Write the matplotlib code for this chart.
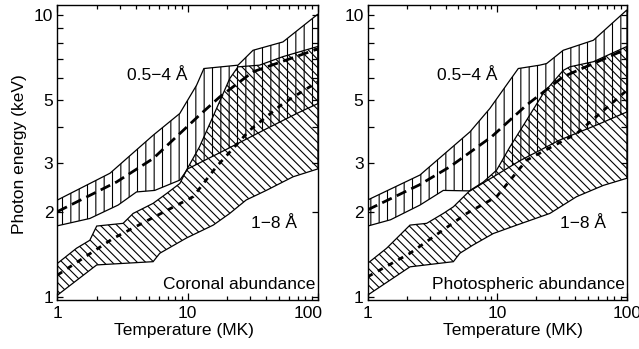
import matplotlib
matplotlib.use('Agg')
import matplotlib.pyplot as plt
from matplotlib.patches import Polygon
from matplotlib.ticker import FixedLocator, FixedFormatter, NullFormatter
import matplotlib.transforms as mtransforms

plt.rcParams['font.family'] = ['Liberation Sans', 'DejaVu Sans']
plt.rcParams['hatch.linewidth'] = 0.8

# ---------------- Coronal abundance (left panel) ----------------
cor_short_up_T = [1.0, 2.53, 5.42, 8.68, 11.7, 13.3, 24.3, 31.7, 53.8, 100]
cor_short_up_E = [2.21, 2.75, 3.75, 4.48, 5.65, 6.47, 6.65, 7.51, 8.04, 10.1]
cor_short_lo_T = [1.0, 1.77, 2.92, 4.04, 5.58, 8.7, 10.0, 20, 40, 70, 100]
cor_short_lo_E = [1.79, 1.90, 2.12, 2.36, 2.39, 2.6, 2.85, 3.35, 3.95, 4.5, 4.86]
cor_long_up_T = [1.0, 1.4, 1.77, 2.0, 3.19, 3.81, 5.42, 6.88, 8.7, 9.78, 12.3, 15.6, 21, 24.3, 35.5, 53.8, 100]
cor_long_up_E = [1.317, 1.49, 1.59, 1.786, 1.826, 1.98, 2.15, 2.33, 2.53, 2.82, 3.41, 4.36, 5.96, 6.56, 6.65, 7.13, 7.75]
cor_long_lo_T = [1.0, 2.0, 5.42, 6.1, 9.78, 15.7, 21, 28.1, 40.1, 64.2, 100]
cor_long_lo_E = [1.016, 1.30, 1.335, 1.43, 1.62, 1.80, 1.98, 2.21, 2.39, 2.67, 2.85]
cor_short_med_T = [1.0, 2.84, 5.42, 12.3, 17.6, 31.7, 100]
cor_short_med_E = [2.01, 2.56, 3.1, 4.42, 5.13, 6.3, 7.6]
cor_long_med_T = [1.0, 2.68, 11, 16.6, 29.9, 53.8, 100]
cor_long_med_E = [1.197, 1.615, 2.27, 2.9, 3.91, 4.86, 5.81]

# ---------------- Photospheric abundance (right panel) ----------------
pho_short_up_T = [1.0, 2.53, 6.16, 8.76, 12.5, 14.5, 21.2, 24, 32.2, 55, 100]
pho_short_up_E = [2.21, 2.71, 3.86, 4.67, 5.88, 6.47, 6.65, 6.74, 7.51, 8.15, 10.45]
pho_short_lo_T = [1.0, 1.5, 2.53, 3.83, 6.16, 15, 30, 60, 100]
pho_short_lo_E = [1.786, 1.88, 2.12, 2.39, 2.38, 3.05, 3.6, 4.1, 4.54]
pho_long_up_T = [1.0, 1.4, 2.12, 2.85, 3.83, 4.58, 6.16, 7.8, 9.87, 12.5, 16.8, 22.6, 32.2, 36.2, 55, 100]
pho_long_up_E = [1.317, 1.49, 1.80, 1.826, 1.98, 2.09, 2.39, 2.56, 2.82, 3.41, 4.24, 5.28, 6.37, 6.56, 6.84, 7.75]
pho_long_lo_T = [1.0, 2.12, 4.58, 5.14, 6.5, 9.3, 14.1, 25.4, 40.8, 65.7, 100]
pho_long_lo_E = [1.016, 1.28, 1.335, 1.43, 1.53, 1.68, 1.80, 1.98, 2.27, 2.49, 2.64]
pho_short_med_T = [1.0, 2.5, 4.31, 9.0, 16.8, 32.2, 100]
pho_short_med_E = [2.04, 2.5, 2.9, 3.7, 4.8, 6.05, 7.6]
pho_long_med_T = [1.0, 2.12, 5.8, 9.87, 16.8, 40.8, 100]
pho_long_med_E = [1.18, 1.43, 1.98, 2.27, 3.06, 3.8, 5.42]

ytick_vals = [1, 2, 3, 5, 10]
ytick_labels = ['1', '2', '3', '5', '10']
yminor_vals = [4, 6, 7, 8, 9]
xtick_vals = [1, 10, 100]
xtick_labels = ['1', '10', '100']
band_labels = ['0.5\u22124 \u00c5', '1\u22128 \u00c5']
panel_titles = ['Coronal abundance', 'Photospheric abundance']

W, H = 639, 349
fig = plt.figure(figsize=(W / 100, H / 100), dpi=100)

def band(ax, upT, upE, loT, loE, hatch):
    pts = list(zip(upT, upE)) + list(zip(loT[::-1], loE[::-1]))
    p = Polygon(pts, closed=True, fill=False, edgecolor='black',
                linewidth=0.9, hatch=hatch)
    ax.add_patch(p)

def setup(ax, data, title, xlabel_x, shift_last=0):
    (suT, suE, slT, slE, luT, luE, llT, llE, smT, smE, lmT, lmE) = data
    band(ax, luT, luE, llT, llE, '\\' * 4)
    band(ax, suT, suE, slT, slE, '||')
    ax.plot(smT, smE, color='black', lw=2.0, dashes=(3.8, 2.0))
    ax.plot(lmT, lmE, color='black', lw=2.0, dashes=(2.0, 2.2))
    ax.set_xscale('log')
    ax.set_yscale('log')
    ax.set_xlim(1, 100)
    ax.set_ylim(0.976, 10.9)
    ax.yaxis.set_major_locator(FixedLocator(ytick_vals))
    ax.yaxis.set_major_formatter(FixedFormatter(ytick_labels))
    ax.yaxis.set_minor_locator(FixedLocator(yminor_vals))
    ax.yaxis.set_minor_formatter(NullFormatter())
    ax.xaxis.set_major_locator(FixedLocator(xtick_vals))
    ax.xaxis.set_major_formatter(FixedFormatter(xtick_labels))
    ax.tick_params(which='both', direction='in', top=True, right=True,
                   labelsize=12.5, width=0.9)
    ax.tick_params(axis='x', which='major', length=5, pad=4)
    ax.tick_params(axis='x', which='minor', length=3)
    ax.tick_params(axis='y', which='both', length=4, pad=3)
    for s in ax.spines.values():
        s.set_linewidth(1.0)
    ax.text(0.384, 0.745, band_labels[0], transform=ax.transAxes,
            ha='center', va='baseline', fontsize=12.5)
    ax.text(0.832, 0.244, band_labels[1], transform=ax.transAxes,
            ha='center', va='baseline', fontsize=12.5)
    ax.text(0.99, 0.037, title, transform=ax.transAxes,
            ha='right', va='baseline', fontsize=12.5)
    fig.text(xlabel_x / W, 1 - 330 / H, 'Temperature (MK)', ha='center',
             va='center', fontsize=12.5)
    if shift_last:
        fig.canvas.draw()
        lab = ax.get_xticklabels()[-1]
        lab.set_transform(lab.get_transform() +
                          mtransforms.ScaledTranslation(shift_last / 100, 0,
                                                        fig.dpi_scale_trans))

ax1 = fig.add_axes([57.5 / W, 49 / H, 260.5 / W, 295.3 / H])
ax2 = fig.add_axes([367.7 / W, 49 / H, 259.3 / W, 295.3 / H])

setup(ax1, (cor_short_up_T, cor_short_up_E, cor_short_lo_T, cor_short_lo_E,
            cor_long_up_T, cor_long_up_E, cor_long_lo_T, cor_long_lo_E,
            cor_short_med_T, cor_short_med_E, cor_long_med_T, cor_long_med_E),
      panel_titles[0], 184, shift_last=-10)
setup(ax2, (pho_short_up_T, pho_short_up_E, pho_short_lo_T, pho_short_lo_E,
            pho_long_up_T, pho_long_up_E, pho_long_lo_T, pho_long_lo_E,
            pho_short_med_T, pho_short_med_E, pho_long_med_T, pho_long_med_E),
      panel_titles[1], 513)

fig.text(20 / W, 1 - 154 / H, 'Photon energy (keV)', rotation=90,
         ha='center', va='center', fontsize=12.5)

fig.savefig('out.png', dpi=100)
